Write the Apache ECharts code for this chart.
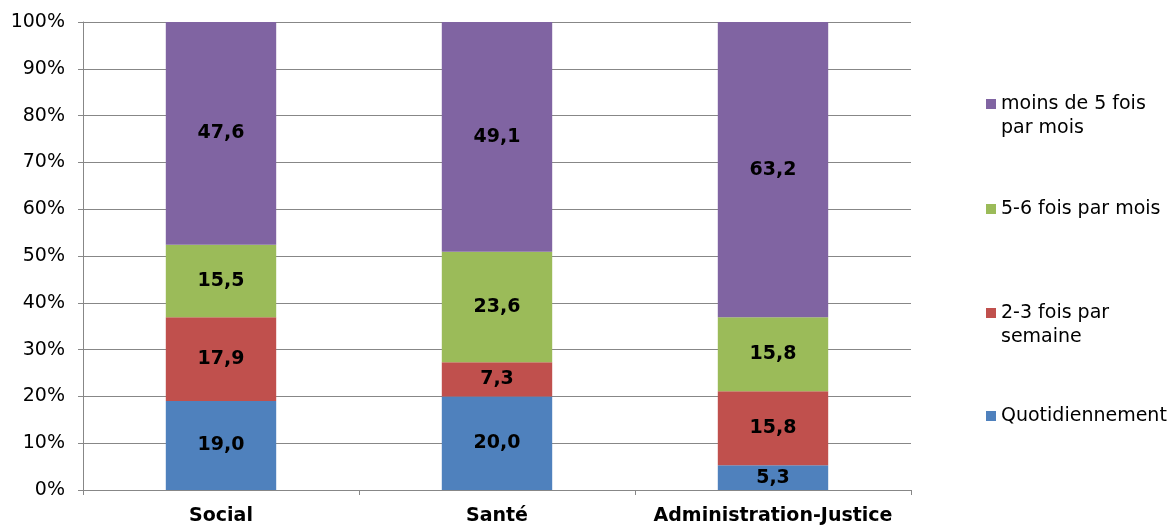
<!DOCTYPE html>
<html>
<head>
<meta charset="utf-8">
<script src="https://cdn.jsdelivr.net/npm/echarts@6/dist/echarts.min.js"></script>
<style>
  html, body { margin: 0; padding: 0; background: #fff; }
  #chart { width: 1169px; height: 526px; }
</style>
</head>
<body>
<div id="chart"></div>
<script>
// Fréquence par secteur (en % des répondants)
const categories = ['Social', 'Santé', 'Administration-Justice'];
const quotidiennement = [19.0, 20.0, 5.3];
const deuxTroisParSemaine = [17.9, 7.3, 15.8];
const cinqSixParMois = [15.5, 23.6, 15.8];
const moinsDeCinqParMois = [47.6, 49.1, 63.2];
const yTicks = [0, 10, 20, 30, 40, 50, 60, 70, 80, 90, 100];

const FONT = '"DejaVu Sans", Verdana, sans-serif';
const FONT_SIZE = 19;
const GRID_COLOR = '#878787';

const seriesDefs = [
  { name: 'Quotidiennement', data: quotidiennement, color: '#4F81BD' },
  { name: '2-3 fois par semaine', data: deuxTroisParSemaine, color: '#C0504D' },
  { name: '5-6 fois par mois', data: cinqSixParMois, color: '#9BBB59' },
  { name: 'moins de 5 fois par mois', data: moinsDeCinqParMois, color: '#8064A2' }
];

// Legend labels wrap onto two lines where needed
const legendText = {
  'moins de 5 fois par mois': 'moins de 5 fois\npar mois',
  '5-6 fois par mois': '5-6 fois par mois',
  '2-3 fois par semaine': '2-3 fois par\nsemaine',
  'Quotidiennement': 'Quotidiennement'
};
const legendTops = {
  'moins de 5 fois par mois': 92,
  '5-6 fois par mois': 197,
  '2-3 fois par semaine': 301,
  'Quotidiennement': 404
};
const LINE_H = 24;
const SQ = 10;

// For two-line entries the square sits beside the first line: the icon box is
// as tall as both lines and the square is drawn at its top.
const tallIcon = 'path://M0,0L10,0L10,10L0,10Z M0,' + (SQ + LINE_H) + 'L0.01,' + (SQ + LINE_H);

const legends = Object.keys(legendTops).map(name => {
  const twoLines = legendText[name].indexOf('\n') >= 0;
  return {
    data: [name],
    left: 986,
    top: legendTops[name],
    padding: 0,
    orient: 'vertical',
    itemWidth: SQ,
    itemHeight: twoLines ? SQ + LINE_H : SQ,
    itemGap: 5,
    icon: twoLines ? tallIcon : 'rect',
    selectedMode: false,
    formatter: n => legendText[n],
    textStyle: {
      fontFamily: FONT,
      fontSize: FONT_SIZE,
      color: '#000',
      lineHeight: LINE_H
    }
  };
});

const chart = echarts.init(document.getElementById('chart'));
chart.setOption({
  animation: false,
  backgroundColor: '#fff',
  textStyle: { fontFamily: FONT },
  legend: legends,
  grid: { left: 83, right: 258, top: 22, bottom: 34, containLabel: false },
  xAxis: {
    type: 'category',
    data: categories,
    boundaryGap: true,
    axisLine: { lineStyle: { color: GRID_COLOR, width: 1 } },
    axisTick: { show: true, interval: 0, length: 5, alignWithLabel: false, lineStyle: { color: GRID_COLOR } },
    axisLabel: { interval: 0, margin: 17, fontFamily: FONT, fontSize: FONT_SIZE, fontWeight: 'bold', color: '#000' }
  },
  yAxis: {
    type: 'value',
    min: yTicks[0],
    max: yTicks[yTicks.length - 1],
    interval: 10,
    axisLine: { show: true, lineStyle: { color: GRID_COLOR, width: 1 } },
    axisTick: { show: true, length: 5, lineStyle: { color: GRID_COLOR } },
    axisLabel: { formatter: v => v + '%', margin: 18, fontFamily: FONT, fontSize: FONT_SIZE, color: '#000' },
    splitLine: { show: true, lineStyle: { color: GRID_COLOR, width: 1 } }
  },
  series: seriesDefs.map(s => ({
    name: s.name,
    type: 'bar',
    stack: 'total',
    barWidth: '40%',
    data: s.data,
    itemStyle: { color: s.color },
    label: {
      show: true,
      position: 'inside',
      formatter: p => p.value.toFixed(1).replace('.', ','),
      fontFamily: FONT,
      fontSize: FONT_SIZE,
      fontWeight: 'bold',
      color: '#000'
    }
  }))
});
</script>
</body>
</html>
